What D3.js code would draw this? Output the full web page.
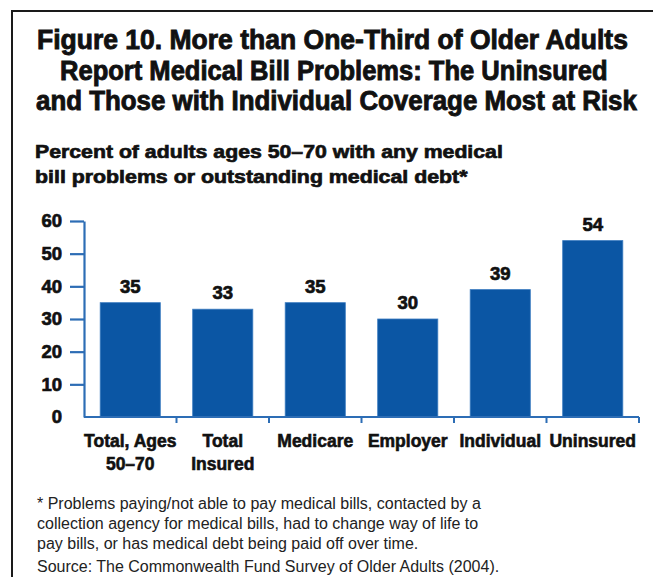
<!DOCTYPE html>
<html>
<head>
<meta charset="utf-8">
<script src="https://cdn.jsdelivr.net/npm/d3@7"></script>
<style>
  html, body { margin: 0; padding: 0; background: #fff; }
  svg { display: block; }
</style>
</head>
<body>
<svg id="chart" width="653" height="577"></svg>
<script>
// Survey categories and share reporting medical bill problems (%)
const categories = ["Total, Ages 50–70", "Total Insured", "Medicare", "Employer", "Individual", "Uninsured"];
const categoryLines = [["Total, Ages", "50–70"], ["Total", "Insured"], ["Medicare"], ["Employer"], ["Individual"], ["Uninsured"]];
const values = [35, 33, 35, 30, 39, 54];
const yTicks = [0, 10, 20, 30, 40, 50, 60];

const titleLines = [
  "Figure 10. More than One-Third of Older Adults",
  "Report Medical Bill Problems: The Uninsured",
  "and Those with Individual Coverage Most at Risk"
];
const subtitleLines = [
  "Percent of adults ages 50–70 with any medical",
  "bill problems or outstanding medical debt*"
];
const footnoteLines = [
  "* Problems paying/not able to pay medical bills, contacted by a",
  "collection agency for medical bills, had to change way of life to",
  "pay bills, or has medical debt being paid off over time."
];
const sourceLine = "Source: The Commonwealth Fund Survey of Older Adults (2004).";

const svg = d3.select("#chart");
const W = 653, H = 577;

const heavy = "'Liberation Sans Narrow', 'Arial Narrow', 'Liberation Sans', Arial, sans-serif";
const bold = "'Liberation Sans', Arial, sans-serif";

// Frame around the figure (open on the right and bottom edges)
svg.append("path")
  .attr("d", `M12,${H} L12,11 L${W},11`)
  .attr("fill", "none")
  .attr("stroke", "#1a1a1a")
  .attr("stroke-width", 2);

// Fit a bold line of text horizontally between x0 and x1 by scaling it
function fittedLine(str, x0, x1, yBase, size, strokeW) {
  const t = svg.append("text")
    .attr("x", 0).attr("y", 0)
    .attr("font-family", bold).attr("font-weight", "bold")
    .attr("font-size", size)
    .attr("fill", "#111")
    .attr("stroke", "#111").attr("stroke-width", strokeW)
    .text(str);
  const w = t.node().getComputedTextLength();
  const sx = (x1 - x0) / w;
  t.attr("transform", `translate(${x0},${yBase}) scale(${sx},1)`);
  return t;
}

// Title
const titleSpec = [
  { x0: 37, x1: 628, y: 49 },
  { x0: 60, x1: 608, y: 80 },
  { x0: 36, x1: 637, y: 110 }
];
titleLines.forEach((t, i) => {
  const s = titleSpec[i];
  fittedLine(t, s.x0, s.x1, s.y, 27, 0.9);
});

// Subtitle
const subSpec = [{ x1: 503, y: 158 }, { x1: 468, y: 183 }];
subtitleLines.forEach((t, i) => {
  fittedLine(t, 35, subSpec[i].x1, subSpec[i].y, 19, 0.7);
});

// Plot area
const x = d3.scaleBand().domain(categories).range([84, 639]).paddingInner(0.35).paddingOuter(0.175);
const xEdges = d3.scaleBand().domain(categories).range([84, 639]).padding(0);
const y = d3.scaleLinear().domain([0, 60]).range([417, 221]);

const axisBlue = "#2d6db5";
const barBlue = "#0b56a4";

// Bars
svg.append("g").selectAll("rect")
  .data(values)
  .join("rect")
  .attr("x", (d, i) => x(categories[i]))
  .attr("y", d => y(d))
  .attr("width", x.bandwidth())
  .attr("height", d => y(0) - y(d))
  .attr("fill", barBlue)
  .attr("stroke", "#3c7cc0")
  .attr("stroke-width", 0.8);

// Value labels
svg.append("g").selectAll("text")
  .data(values)
  .join("text")
  .attr("x", (d, i) => x(categories[i]) + x.bandwidth() / 2)
  .attr("y", d => y(d) - 10)
  .attr("text-anchor", "middle")
  .attr("font-family", bold).attr("font-weight", "bold")
  .attr("font-size", 18.5)
  .attr("fill", "#111")
  .attr("stroke", "#111").attr("stroke-width", 0.7)
  .text(d => d);

// Y axis
const yAxis = svg.append("g")
  .attr("transform", "translate(84,0)")
  .call(d3.axisLeft(y).tickValues(yTicks).tickSize(14).tickPadding(8).tickSizeOuter(0));
yAxis.select(".domain").attr("stroke", axisBlue).attr("stroke-width", 2.2);
yAxis.selectAll(".tick line").attr("stroke", axisBlue).attr("stroke-width", 2.2);
yAxis.selectAll(".tick text")
  .attr("font-family", bold).attr("font-weight", "bold")
  .attr("font-size", 18.5).attr("fill", "#111")
  .attr("stroke", "#111").attr("stroke-width", 0.7);
yAxis.selectAll(".tick").filter(d => d === 0).select("line").remove();

// X axis baseline with ticks at the band boundaries
const xAxis = svg.append("g").attr("transform", `translate(0,${y(0)})`);
xAxis.append("line")
  .attr("x1", 84).attr("x2", 639).attr("y1", 0).attr("y2", 0)
  .attr("stroke", axisBlue).attr("stroke-width", 2.2);
xAxis.selectAll("line.tk")
  .data(categories)
  .join("line")
  .attr("class", "tk")
  .attr("x1", d => xEdges(d) + xEdges.bandwidth())
  .attr("x2", d => xEdges(d) + xEdges.bandwidth())
  .attr("y1", 0).attr("y2", 6)
  .attr("stroke", axisBlue).attr("stroke-width", 2);

// Category labels
const catG = svg.append("g");
categoryLines.forEach((lines, i) => {
  const cx = xEdges(categories[i]) + xEdges.bandwidth() / 2;
  lines.forEach((ln, j) => {
    catG.append("text")
      .attr("x", cx).attr("y", 447 + j * 23)
      .attr("text-anchor", "middle")
      .attr("font-family", heavy).attr("font-weight", "bold")
      .attr("font-size", 17.5)
      .attr("fill", "#111")
      .attr("stroke", "#111").attr("stroke-width", 0.6)
      .text(ln);
  });
});

// Footnote and source
footnoteLines.forEach((t, i) => {
  svg.append("text")
    .attr("x", 37).attr("y", 509 + i * 20)
    .attr("font-family", "'Liberation Sans', Arial, sans-serif")
    .attr("font-size", 16)
    .attr("fill", "#222")
    .text(t);
});
svg.append("text")
  .attr("x", 37).attr("y", 572)
  .attr("font-family", "'Liberation Sans', Arial, sans-serif")
  .attr("font-size", 16)
  .attr("fill", "#222")
  .text(sourceLine);
</script>
</body>
</html>
